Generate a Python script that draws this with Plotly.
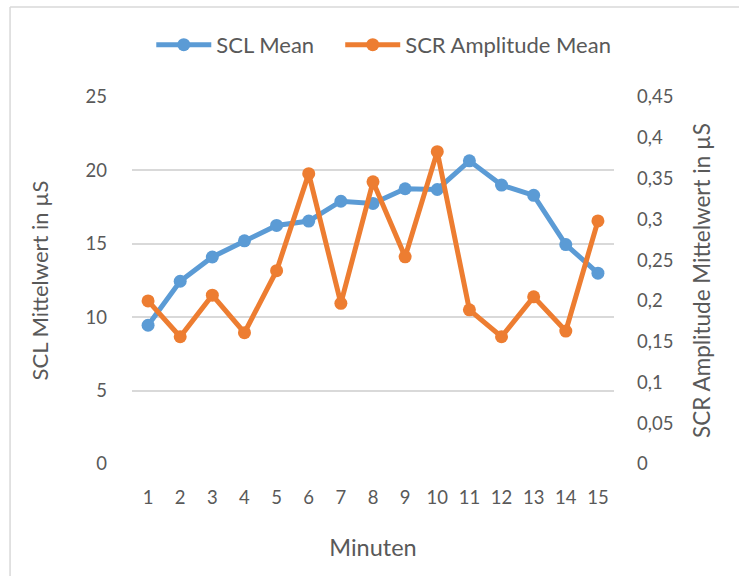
import plotly.graph_objects as go

minutes = [str(i) for i in range(1, 16)]
scl_mean = [9.45, 12.45, 14.1, 15.2, 16.25, 16.55, 17.9, 17.75, 18.75, 18.7, 20.65, 19.0, 18.3, 14.95, 13.0]
scr_amp_mean = [0.2, 0.156, 0.207, 0.161, 0.237, 0.356, 0.197, 0.346, 0.254, 0.383, 0.189, 0.156, 0.205, 0.163, 0.298]

left_ticks = [0, 5, 10, 15, 20, 25]
right_ticks = [0, 0.05, 0.1, 0.15, 0.2, 0.25, 0.3, 0.35, 0.4, 0.45]
right_labels = ["0", "0,05", "0,1", "0,15", "0,2", "0,25", "0,3", "0,35", "0,4", "0,45"]

BLUE = "#5B9BD5"
ORANGE = "#ED7D31"
TXT = "#595959"
GRID = "#D9D9D9"
FONT = "Lato"

fig = go.Figure()
fig.add_trace(go.Scatter(
    x=minutes, y=scl_mean, name="SCL Mean", mode="lines+markers",
    line=dict(color=BLUE, width=5), marker=dict(color=BLUE, size=13),
    legend="legend",
))
fig.add_trace(go.Scatter(
    x=minutes, y=scr_amp_mean, name="SCR Amplitude Mean", mode="lines+markers",
    line=dict(color=ORANGE, width=5), marker=dict(color=ORANGE, size=13),
    yaxis="y2", legend="legend2",
))

leg_common = dict(orientation="h", y=1.142, yanchor="middle", xanchor="left",
                  font=dict(family=FONT, size=22, color=TXT), itemwidth=55,
                  bgcolor="rgba(0,0,0,0)")

fig.update_layout(
    width=739, height=576,
    margin=dict(l=132, r=125, t=97, b=112, autoexpand=False),
    paper_bgcolor="white", plot_bgcolor="white",
    font=dict(family=FONT, size=18, color=TXT),
    showlegend=True,
    legend=dict(x=0.040, **leg_common),
    legend2=dict(x=0.432, **leg_common),
    xaxis=dict(
        type="category", range=[-0.5, 14.5], showgrid=False, zeroline=False, showline=False,
        automargin=False, ticks="", ticklabelstandoff=20,
        title=dict(text="Minuten", standoff=33, font=dict(size=23.5, color=TXT)),
        tickfont=dict(size=18.5, color=TXT),
    ),
    yaxis=dict(
        range=[0, 25], tickvals=left_ticks, showgrid=True, gridcolor=GRID, gridwidth=1.5,
        zeroline=False, showline=False, ticks="", ticklabelstandoff=24, automargin=False,
        title=dict(text="SCL Mittelwert in µS", standoff=30, font=dict(size=22, color=TXT)),
        tickfont=dict(size=18.5, color=TXT),
    ),
    yaxis2=dict(
        range=[0, 0.45], tickvals=right_ticks, ticktext=right_labels, overlaying="y",
        side="right", showgrid=False, zeroline=False, showline=False, ticks="",
        ticklabelstandoff=22, automargin=False,
        title=dict(text="SCR Amplitude Mittelwert in µS", standoff=21, font=dict(size=22.5, color=TXT)),
        tickfont=dict(size=18.5, color=TXT),
    ),
    shapes=[
        dict(type="line", xref="paper", yref="paper", x0=-0.253, x1=1.4, y0=1.245, y1=1.245,
             line=dict(color="#D9D9D9", width=1.5)),
        dict(type="line", xref="paper", yref="paper", x0=-0.253, x1=-0.253, y0=-0.4, y1=1.245,
             line=dict(color="#D9D9D9", width=1.5)),
    ],
)

fig.write_html("out.html")
